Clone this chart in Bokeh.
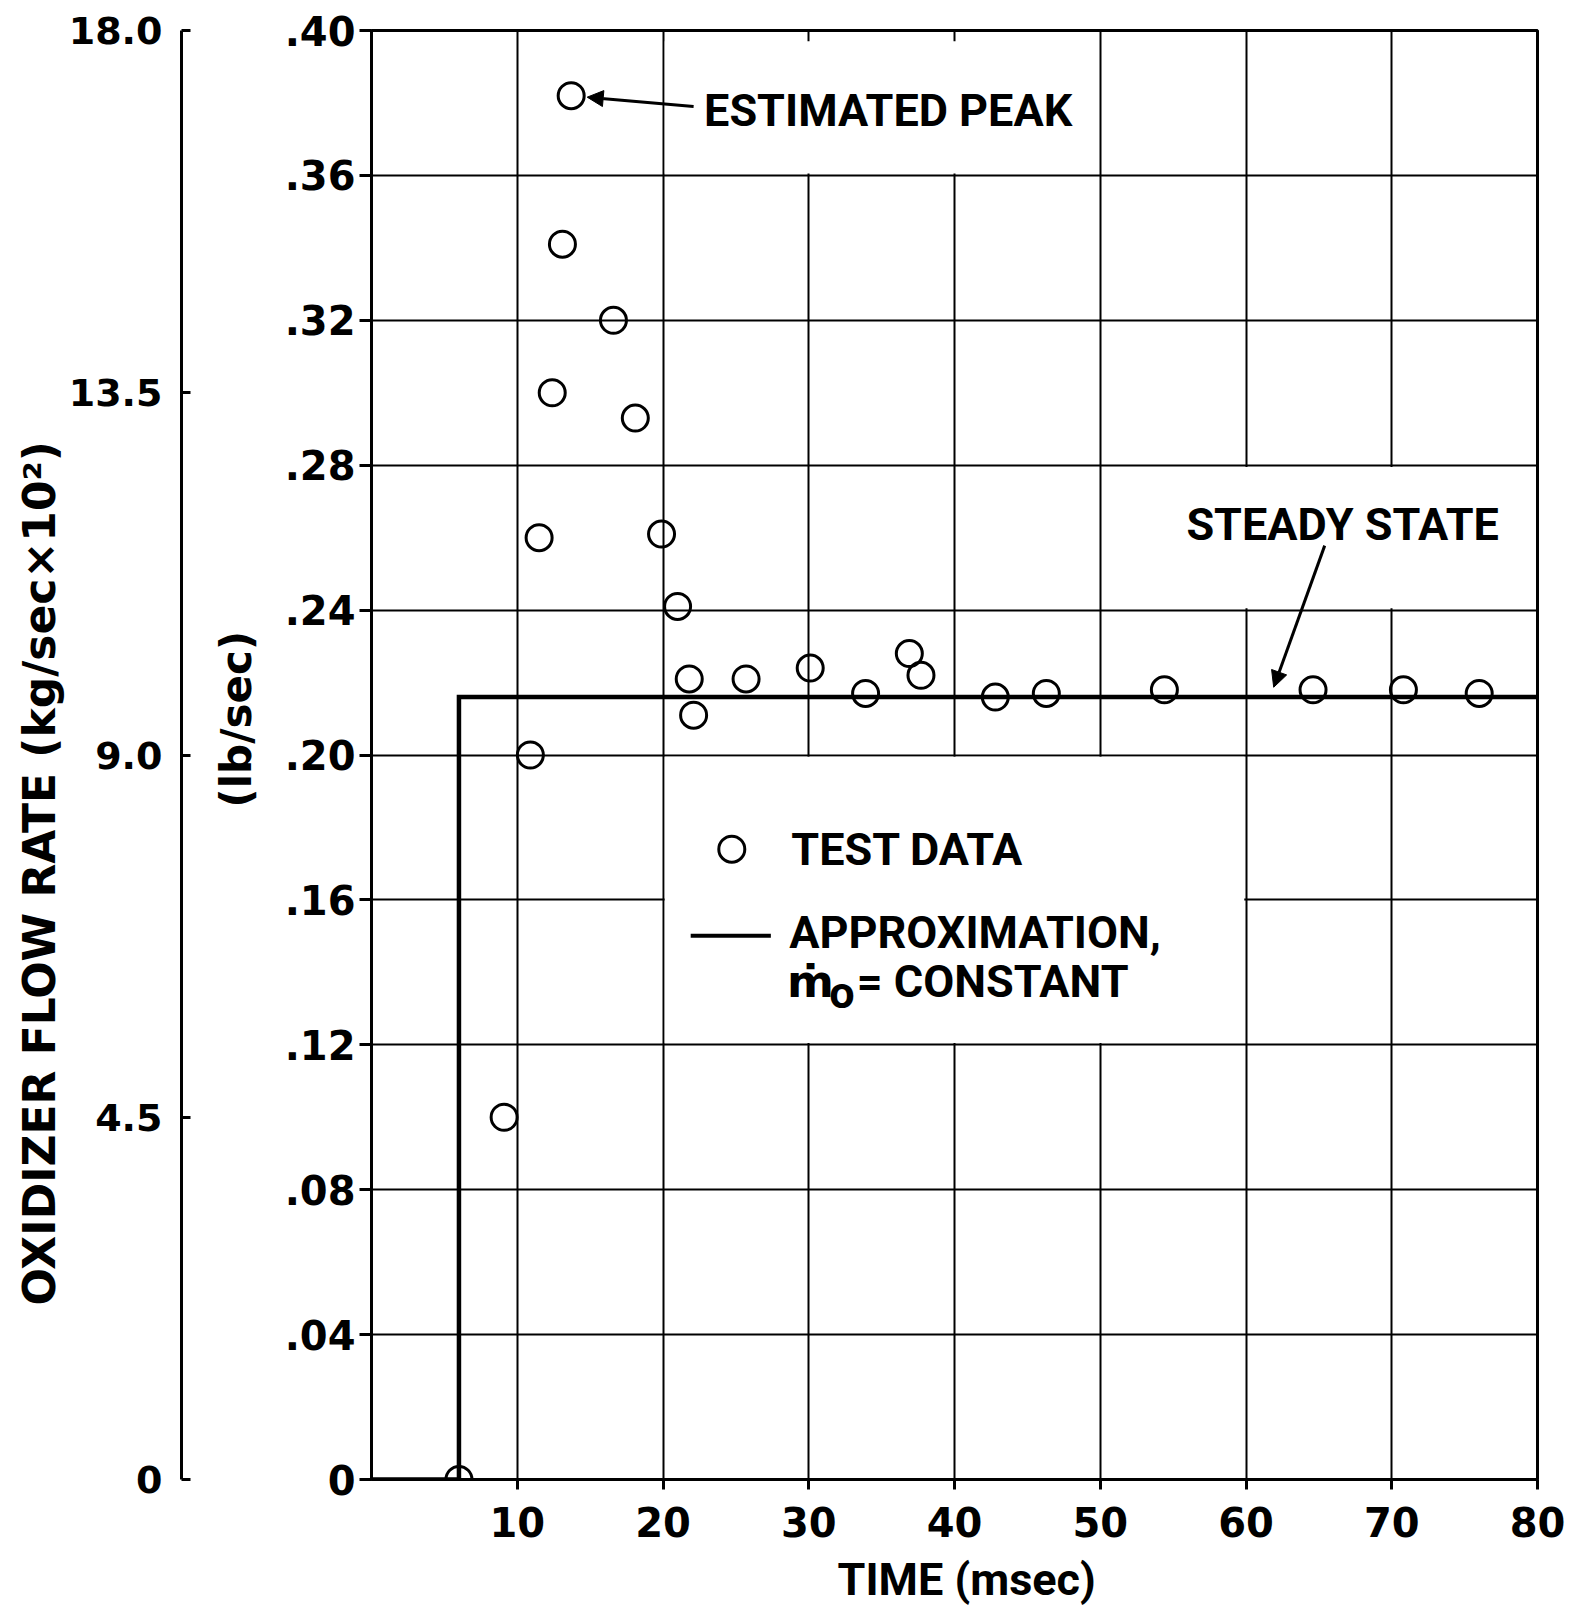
from bokeh.plotting import figure
from bokeh.models import (Range1d, LinearAxis, FixedTicker, CustomJSTickFormatter,
                          Title, Arrow, NormalHead)
from bokeh.core.properties import value
from bokeh.embed import file_html
from bokeh.resources import INLINE

# ---------------- data ----------------
time_ms = [6.0, 9.1, 10.9, 11.5, 12.4, 13.1, 13.7, 16.6, 18.1, 19.9, 21.0, 21.8,
           22.1, 25.7, 30.1, 33.9, 36.9, 37.7, 42.8, 46.3, 54.4, 64.6, 70.8, 76.0]
flow_lb = [0.000, 0.100, 0.200, 0.260, 0.300, 0.341, 0.382, 0.320, 0.293, 0.261, 0.241, 0.221,
           0.211, 0.221, 0.224, 0.217, 0.228, 0.222, 0.216, 0.217, 0.218, 0.218, 0.218, 0.217]

approx_t = [0.0, 6.0, 6.0, 80.0]
approx_v = [0.0, 0.0, 0.216, 0.216]

x_ticks = [10, 20, 30, 40, 50, 60, 70, 80]
x_grid = [10, 20, 30, 40, 50, 60, 70]
y_ticks = [0, 0.04, 0.08, 0.12, 0.16, 0.20, 0.24, 0.28, 0.32, 0.36, 0.40]
y_grid = [0.04, 0.08, 0.12, 0.16, 0.20, 0.24, 0.28, 0.32, 0.36]
kg_ticks = [0, 4.5, 9.0, 13.5, 18.0]

# white "knock-out" patches behind the lettering (grid removed there)
box_left = [20.12, 50.12, 20.12]
box_right = [49.88, 79.88, 59.88]
box_bottom = [0.3605, 0.2405, 0.1205]
box_top = [0.397, 0.2795, 0.1995]

TICK_FONT = "DejaVu Sans"
ANN_FONT = "Roboto"

W, H = 1575, 1610
p = figure(width=W, height=H, x_range=Range1d(0, 80), y_range=Range1d(0, 0.40),
           output_backend="svg", toolbar_location=None,
           min_border_left=371, min_border_right=38, min_border_top=30, min_border_bottom=131)
p.background_fill_color = "white"
p.border_fill_color = "white"
p.outline_line_color = "black"
p.outline_line_width = 3

# ---- x axis ----
xa = p.below[0]
xa.ticker = FixedTicker(ticks=x_ticks)
xa.major_tick_out = 10
xa.major_tick_in = 0
xa.minor_tick_out = 0
xa.minor_tick_in = 0
xa.major_tick_line_width = 3
xa.axis_line_width = 3
xa.major_label_standoff = 17
xa.major_label_text_font = TICK_FONT
xa.major_label_text_font_style = "bold"
xa.major_label_text_font_size = "40px"
xa.major_label_text_color = "black"

# small invisible gap between the tick labels and the axis title
x_gap = LinearAxis(ticker=FixedTicker(ticks=[40]),
                   formatter=CustomJSTickFormatter(code="return '';"),
                   major_tick_out=8, major_tick_in=0, minor_tick_out=0, minor_tick_in=0,
                   axis_line_color=None, major_tick_line_color=None, minor_tick_line_color=None,
                   major_label_text_font_size="1px", major_label_standoff=0)
p.add_layout(x_gap, "below")

p.add_layout(Title(text="TIME (msec)", align="left", offset=466, standoff=7,
                   text_font=ANN_FONT, text_font_style="bold", text_font_size="45px",
                   text_color="black"), "below")

# ---- main y axis (lb/sec) ----
ya = p.left[0]
ya.ticker = FixedTicker(ticks=y_ticks)
ya.formatter = CustomJSTickFormatter(code="return tick == 0 ? '0' : tick.toFixed(2).replace(/^0/, '');")
ya.major_tick_out = 12
ya.major_tick_in = 0
ya.minor_tick_out = 0
ya.minor_tick_in = 0
ya.major_tick_line_width = 3
ya.axis_line_width = 3
ya.major_label_standoff = 4
ya.major_label_text_font = TICK_FONT
ya.major_label_text_font_style = "bold"
ya.major_label_text_font_size = "40px"
ya.major_label_text_color = "black"

# ---- grid ----
p.xgrid.ticker = FixedTicker(ticks=x_grid)
p.ygrid.ticker = FixedTicker(ticks=y_grid)
for g in (p.xgrid, p.ygrid):
    g.grid_line_color = "black"
    g.grid_line_width = 2
    g.grid_line_alpha = 1.0

# ---- left side: (lb/sec) title, second scale, main title ----
p.add_layout(Title(text="(lb/sec)", align="left", offset=672, standoff=42,
                   text_font=TICK_FONT, text_font_style="bold", text_font_size="42px",
                   text_color="black"), "left")

p.extra_y_ranges = {"kg": Range1d(0, 18.0)}
spacer = LinearAxis(y_range_name="kg", ticker=FixedTicker(ticks=[9.0]),
                    formatter=CustomJSTickFormatter(code="return '';"),
                    major_tick_out=7, major_tick_in=0, minor_tick_out=0, minor_tick_in=0,
                    axis_line_color=None, major_tick_line_color=None, minor_tick_line_color=None,
                    major_label_text_font_size="1px", major_label_standoff=0)
p.add_layout(spacer, "left")

kg_axis = LinearAxis(y_range_name="kg", ticker=FixedTicker(ticks=kg_ticks),
                     formatter=CustomJSTickFormatter(code="return tick == 0 ? '0' : tick.toFixed(1);"),
                     major_tick_in=9, major_tick_out=0, minor_tick_in=0, minor_tick_out=0,
                     major_tick_line_width=3, axis_line_width=3, major_label_standoff=19,
                     major_label_text_font=TICK_FONT, major_label_text_font_style="bold",
                     major_label_text_font_size="38px", major_label_text_color="black")
p.add_layout(kg_axis, "left")

p.add_layout(Title(text="OXIDIZER FLOW RATE (kg/sec×10²)", align="left", offset=174, standoff=2,
                   text_font=TICK_FONT, text_font_style="bold", text_font_size="44px",
                   text_color="black"), "left")

# ---- knock-out patches ----
p.quad(left=box_left, right=box_right, bottom=box_bottom, top=box_top,
       fill_color="white", line_color=None)

# ---- data ----
p.line(approx_t, approx_v, line_color="black", line_width=4.5, line_join="miter")
p.scatter(time_ms, flow_lb, marker="circle", size=26, fill_color=None,
          line_color="black", line_width=3)

# ---- annotations ----
def txt(x, y, s, size="45px", font=ANN_FONT):
    p.text(x=[x], y=[y], text=[s], text_font=value(font), text_font_size=size,
           text_font_style="bold", text_baseline="middle", text_align="left",
           text_color="black")

txt(22.82, 0.3779, "ESTIMATED PEAK")
p.add_layout(Arrow(end=NormalHead(size=16, fill_color="black", line_color="black"),
                   x_start=22.1, y_start=0.379, x_end=14.8, y_end=0.3816,
                   line_width=3, line_color="black"))

txt(55.91, 0.2637, "STEADY STATE")
p.add_layout(Arrow(end=NormalHead(size=16, fill_color="black", line_color="black"),
                   x_start=65.4, y_start=0.2578, x_end=61.9, y_end=0.2187,
                   line_width=3, line_color="black"))

# legend (drawn by hand as in the original)
p.scatter([24.72], [0.1740], marker="circle", size=26, fill_color=None,
          line_color="black", line_width=3)
txt(28.80, 0.1740, "TEST DATA")
p.line([21.9, 27.4], [0.1501, 0.1501], line_color="black", line_width=4)
txt(28.66, 0.1510, "APPROXIMATION,")
txt(28.50, 0.1376, "ṁ", font=TICK_FONT)
txt(31.40, 0.1345, "o")
txt(33.30, 0.1376, "= CONSTANT")

open("out.html", "w").write(file_html(p, INLINE))
